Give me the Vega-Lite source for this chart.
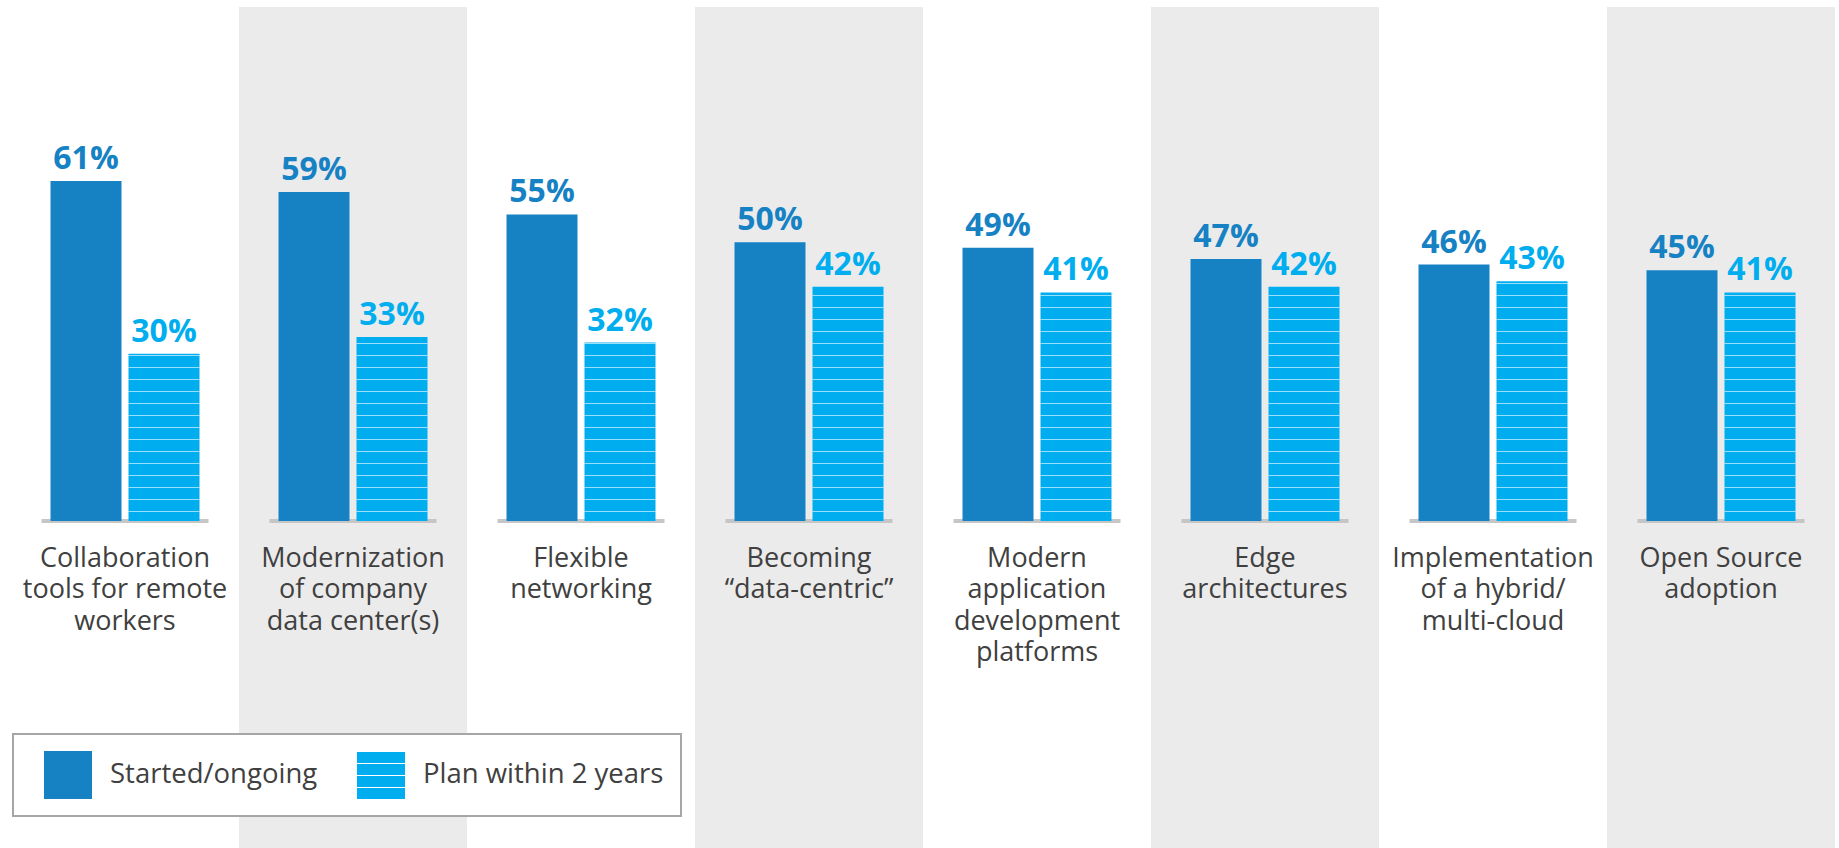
{
  "$schema": "https://vega.github.io/schema/vega-lite/v6.json",
  "width": 1824,
  "height": 841,
  "autosize": {"type": "none"},
  "padding": {"left": 11, "top": 7, "right": 4, "bottom": 0},
  "background": "#FFFFFF",
  "config": {"view": {"stroke": null}},
  "datasets": {
    "cats": [
      {"cat": "Collaboration tools for remote workers", "label": "Collaboration|tools for remote|workers"},
      {"cat": "Modernization of company data center(s)", "label": "Modernization|of company|data center(s)"},
      {"cat": "Flexible networking", "label": "Flexible|networking"},
      {"cat": "Becoming “data-centric”", "label": "Becoming|“data-centric”"},
      {"cat": "Modern application development platforms", "label": "Modern|application|development|platforms"},
      {"cat": "Edge architectures", "label": "Edge|architectures"},
      {"cat": "Implementation of a hybrid/multi-cloud", "label": "Implementation|of a hybrid/|multi-cloud"},
      {"cat": "Open Source adoption", "label": "Open Source|adoption"}
    ],
    "vals": [
      {"cat": "Collaboration tools for remote workers", "series": "Started/ongoing", "value": 0.61},
      {"cat": "Collaboration tools for remote workers", "series": "Plan within 2 years", "value": 0.30},
      {"cat": "Modernization of company data center(s)", "series": "Started/ongoing", "value": 0.59},
      {"cat": "Modernization of company data center(s)", "series": "Plan within 2 years", "value": 0.33},
      {"cat": "Flexible networking", "series": "Started/ongoing", "value": 0.55},
      {"cat": "Flexible networking", "series": "Plan within 2 years", "value": 0.32},
      {"cat": "Becoming “data-centric”", "series": "Started/ongoing", "value": 0.50},
      {"cat": "Becoming “data-centric”", "series": "Plan within 2 years", "value": 0.42},
      {"cat": "Modern application development platforms", "series": "Started/ongoing", "value": 0.49},
      {"cat": "Modern application development platforms", "series": "Plan within 2 years", "value": 0.41},
      {"cat": "Edge architectures", "series": "Started/ongoing", "value": 0.47},
      {"cat": "Edge architectures", "series": "Plan within 2 years", "value": 0.42},
      {"cat": "Implementation of a hybrid/multi-cloud", "series": "Started/ongoing", "value": 0.46},
      {"cat": "Implementation of a hybrid/multi-cloud", "series": "Plan within 2 years", "value": 0.43},
      {"cat": "Open Source adoption", "series": "Started/ongoing", "value": 0.45},
      {"cat": "Open Source adoption", "series": "Plan within 2 years", "value": 0.41}
    ]
  },
  "encoding": {
    "x": {
      "field": "cat",
      "type": "nominal",
      "sort": null,
      "axis": null,
      "scale": {
        "domain": [
          "Collaboration tools for remote workers",
          "Modernization of company data center(s)",
          "Flexible networking",
          "Becoming “data-centric”",
          "Modern application development platforms",
          "Edge architectures",
          "Implementation of a hybrid/multi-cloud",
          "Open Source adoption"
        ],
        "paddingInner": 0,
        "paddingOuter": 0
      }
    }
  },
  "layer": [
    {
      "data": {"name": "cats"},
      "transform": [
        {"window": [{"op": "row_number", "as": "idx"}]},
        {"filter": "datum.idx % 2 == 0"}
      ],
      "mark": {"type": "rect", "fill": "#EBEBEB"},
      "encoding": {
        "y": {"datum": 0.922, "type": "quantitative", "scale": {"domain": [-0.5866, 0.922], "nice": false, "zero": false}, "axis": null},
        "y2": {"datum": -0.5866}
      }
    },
    {
      "data": {"name": "cats"},
      "mark": {"type": "tick", "color": "#C6C6C6", "size": 167, "thickness": 4, "opacity": 1},
      "encoding": {
        "y": {"datum": 0, "type": "quantitative"}
      }
    },
    {
      "data": {"name": "vals"},
      "mark": {"type": "bar"},
      "encoding": {
        "xOffset": {"field": "series", "type": "nominal", "sort": ["Started/ongoing", "Plan within 2 years"], "scale": {"paddingInner": 0.0897, "paddingOuter": 0.5064}},
        "y": {"field": "value", "type": "quantitative"},
        "y2": {"datum": 0},
        "color": {
          "field": "series",
          "type": "nominal",
          "sort": ["Started/ongoing", "Plan within 2 years"],
          "scale": {"domain": ["Started/ongoing", "Plan within 2 years"], "range": ["#1682C4", "#00AEEF"]},
          "legend": {
            "title": null,
            "orient": "none",
            "legendX": 2,
            "legendY": 727,
            "direction": "horizontal",
            "columnPadding": 25,
            "padding": 17,
            "strokeColor": "#A6A6A6",
            "fillColor": "#FFFFFF",
            "symbolSize": 2304,
            "symbolType": "square",
            "symbolOffset": 14,
            "symbolStrokeWidth": 0,
            "labelFont": "Open Sans",
            "labelFontSize": 27.5,
            "labelColor": "#404040",
            "labelOffset": 18,
            "labelLimit": 400,
            "encode": {
              "legend": {"update": {"strokeWidth": {"value": 2}}},
              "symbols": {
                "update": {
                  "shape": {"signal": "datum.value == 'Plan within 2 years' ? 'M-1,-0.958H1V-0.5H-1Z M-1,-0.458H1V0H-1Z M-1,0.042H1V0.5H-1Z M-1,0.542H1V1H-1Z' : 'M-1,-1H1V1H-1Z'"}
                }
              }
            }
          }
        }
      }
    },
    {
      "data": {"name": "vals"},
      "transform": [{"filter": "datum.series == 'Plan within 2 years'"}],
      "mark": {"type": "rule", "stroke": "#FFFFFF", "opacity": 0.6, "strokeWidth": 71, "strokeCap": "butt", "strokeDash": [1, 11], "strokeDashOffset": {"expr": "(1210 - scale('y', 0) + scale('y', datum.value)) % 12"}},
      "encoding": {
        "xOffset": {"field": "series", "type": "nominal", "sort": ["Started/ongoing", "Plan within 2 years"]},
        "y": {"field": "value", "type": "quantitative"},
        "y2": {"datum": 0}
      }
    },
    {
      "data": {"name": "vals"},
      "mark": {"type": "text", "font": "Open Sans", "fontWeight": "bold", "fontSize": 32, "baseline": "alphabetic", "dy": -12, "align": "center"},
      "encoding": {
        "xOffset": {"field": "series", "type": "nominal", "sort": ["Started/ongoing", "Plan within 2 years"]},
        "y": {"field": "value", "type": "quantitative"},
        "text": {"field": "value", "type": "quantitative", "format": ".0%"},
        "color": {"condition": {"test": "datum.series == 'Plan within 2 years'", "value": "#00AEEF"}, "value": "#1682C4"}
      }
    },
    {
      "data": {"name": "cats"},
      "mark": {"type": "text", "font": "Open Sans", "fontSize": 27, "color": "#404040", "baseline": "alphabetic", "dy": 46, "lineBreak": "|", "lineHeight": 31.5, "align": "center"},
      "encoding": {
        "y": {"datum": 0, "type": "quantitative"},
        "text": {"field": "label"}
      }
    }
  ]
}
